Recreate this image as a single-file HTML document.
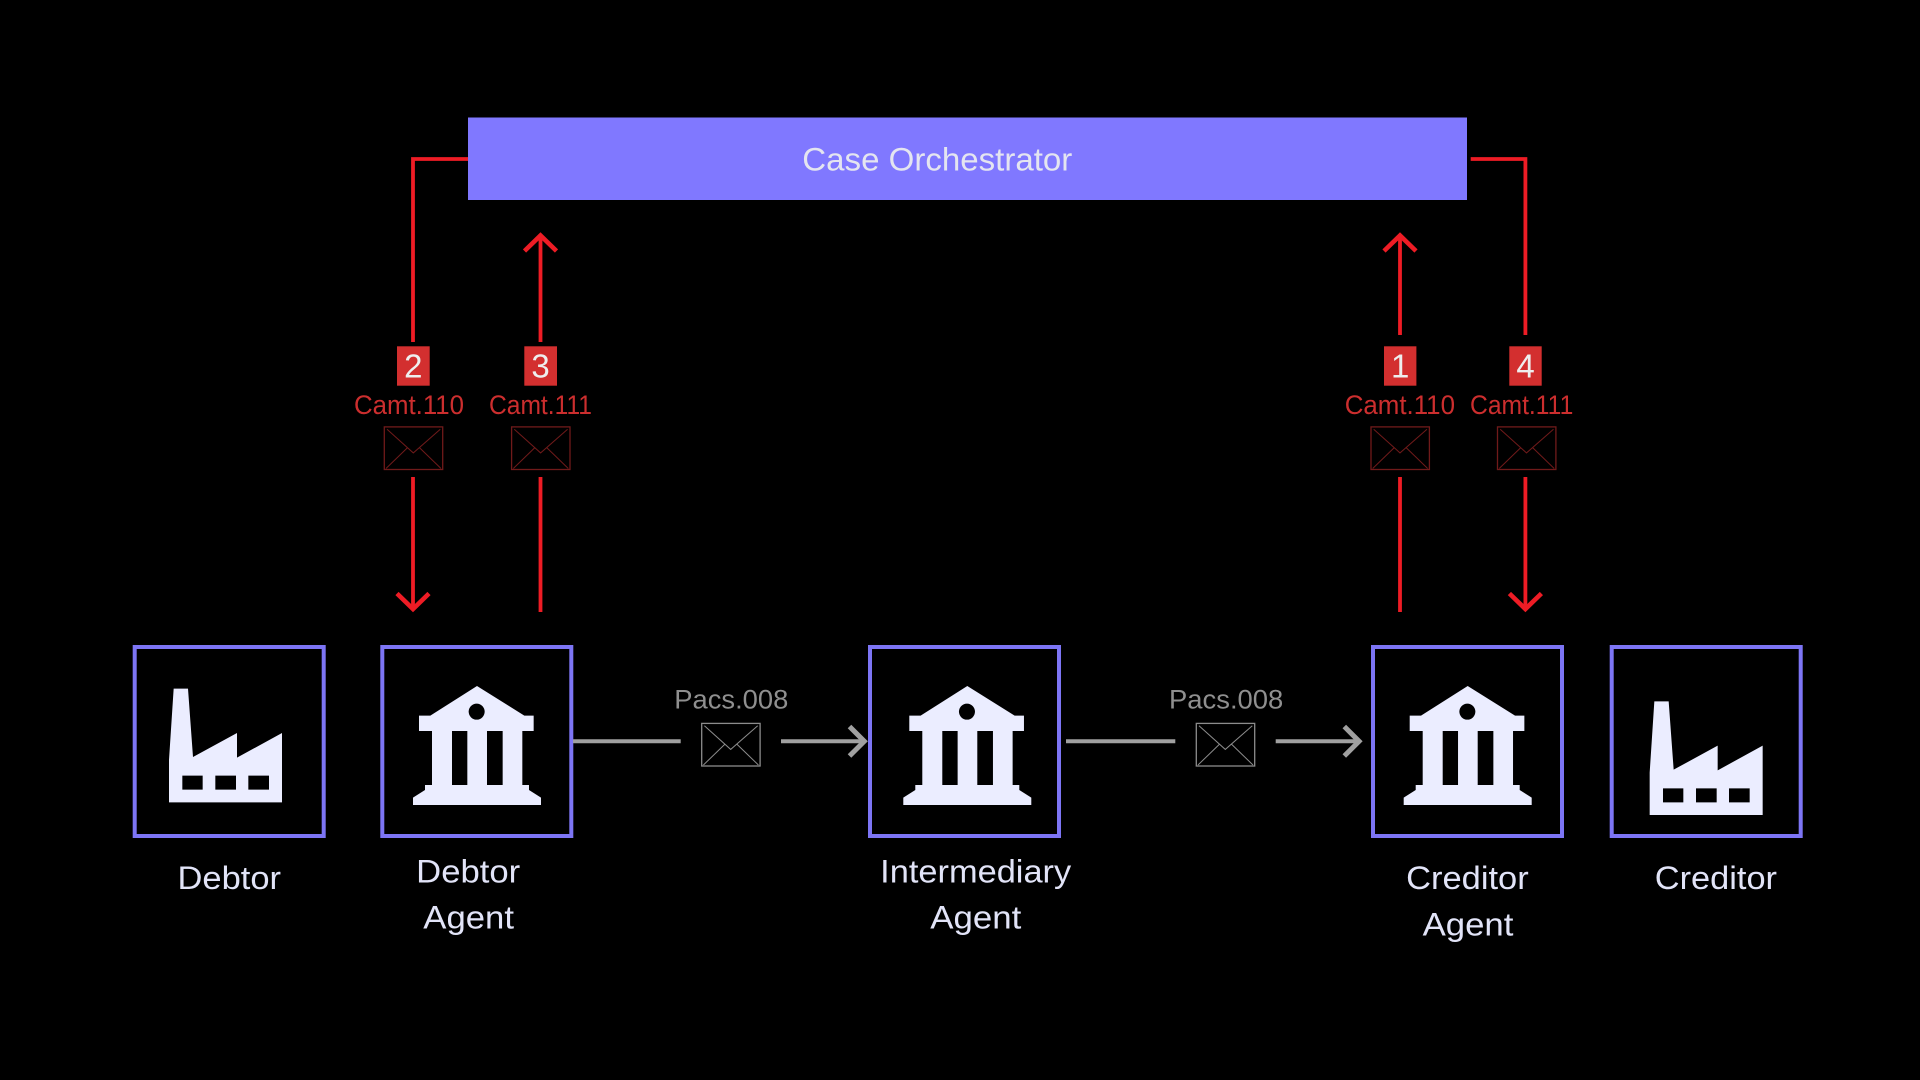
<!DOCTYPE html>
<html>
<head>
<meta charset="utf-8">
<style>
html,body{margin:0;padding:0;background:#000;width:1920px;height:1080px;overflow:hidden}
svg{display:block}
text{font-family:"Liberation Sans",sans-serif}
.lab{font-size:32px;fill:#e2e4f8}
.camt{font-size:26.5px;fill:#cc2e2e}
.pacs{font-size:26.5px;fill:#8f8f8f}
.num{font-size:33px;fill:#eeeeee;text-anchor:middle}
.red{fill:none;stroke:#ee1c25;stroke-width:3.8;stroke-miterlimit:10}
.redw{fill:none;stroke:#ee1c25;stroke-width:4.6;stroke-miterlimit:10}
.gray{fill:none;stroke:#a0a0a0;stroke-width:4;stroke-miterlimit:10}
.grayw{fill:none;stroke:#a0a0a0;stroke-width:5;stroke-miterlimit:10}
.box{fill:#000;stroke:#7d75f5;stroke-width:4}
</style>
</head>
<body>
<svg width="1920" height="1080" viewBox="0 0 1920 1080" xmlns="http://www.w3.org/2000/svg">
<defs>
  <g id="bank">
    <path fill="#ebedff" fill-rule="evenodd" d="M1071 168L1213 257H1241V303H1207V465H1227V480L1263 503V525H879V503L915 480V465H936V303H897V257H931ZM996 303V465H1042V303ZM1101 303V465H1148V303Z"/>
    <circle cx="1070" cy="245" r="24" fill="#000"/>
  </g>
  <g id="factory">
    <path fill="#ebedff" fill-rule="evenodd" d="M161 176H204L219 381L351 309V383L486 309V517H147V390ZM187 437V479H248V437ZM286 437V479H348V437ZM385 437V479H447V437Z"/>
  </g>
  <g id="env" fill="none">
    <rect x="0" y="0" width="58.4" height="42.6" stroke-width="1.3"/>
    <path stroke-width="1" d="M2.7 2.3L29 26L56 2.3M1.7 41.6L23.4 20.6M35 20.6L56.7 41.6"/>
  </g>
</defs>

<rect width="1920" height="1080" fill="#000"/>

<!-- Orchestrator -->
<rect x="468" y="117.5" width="999" height="82.5" fill="#8078ff"/>
<text x="802.3" y="170.7" fill="#e4e5f0" textLength="270" lengthAdjust="spacingAndGlyphs" style="font-size:32px">Case Orchestrator</text>

<!-- Red connectors -->
<path class="red" d="M468 159H413V342"/>
<path class="red" d="M540.5 342V236"/>
<path class="redw" d="M524.5 251L540.5 235.5L556.5 251"/>
<path class="red" d="M413 477V608"/>
<path class="redw" d="M397 593.5L413 609L429 593.5"/>
<path class="red" d="M540.5 477V612"/>

<path class="red" d="M1400 335V236"/>
<path class="redw" d="M1384 251L1400 235.5L1416 251"/>
<path class="red" d="M1470.7 159H1525.4V335"/>
<path class="red" d="M1400 477V612"/>
<path class="red" d="M1525.4 477V608"/>
<path class="redw" d="M1509.4 593.5L1525.4 609L1541.4 593.5"/>

<!-- Badges -->
<rect x="397" y="346.3" width="32.7" height="39.4" fill="#d32f2f"/>
<rect x="524.3" y="346.3" width="32.7" height="39.4" fill="#d32f2f"/>
<rect x="1384" y="346.3" width="32.4" height="39.4" fill="#d32f2f"/>
<rect x="1509.3" y="346.3" width="32.4" height="39.4" fill="#d32f2f"/>
<text class="num" x="413.3" y="377.3">2</text>
<text class="num" x="540.6" y="377.3">3</text>
<text class="num" x="1400.2" y="377.3">1</text>
<text class="num" x="1525.5" y="377.3">4</text>

<!-- Camt labels -->
<text class="camt" x="354" y="414" textLength="110" lengthAdjust="spacingAndGlyphs">Camt.110</text>
<text class="camt" x="489" y="414" textLength="103" lengthAdjust="spacingAndGlyphs">Camt.111</text>
<text class="camt" x="1344.7" y="414" textLength="110.3" lengthAdjust="spacingAndGlyphs">Camt.110</text>
<text class="camt" x="1470" y="414" textLength="103.3" lengthAdjust="spacingAndGlyphs">Camt.111</text>

<!-- Red envelopes -->
<use href="#env" x="384.3" y="426.9" stroke="#701a1a"/>
<use href="#env" x="511.6" y="426.9" stroke="#701a1a"/>
<use href="#env" x="1371" y="426.9" stroke="#701a1a"/>
<use href="#env" x="1497.5" y="426.9" stroke="#701a1a"/>

<!-- Boxes -->
<rect class="box" x="134.7" y="647" width="189" height="189"/>
<rect class="box" x="382.3" y="647" width="189" height="189"/>
<rect class="box" x="870" y="647" width="189" height="189"/>
<rect class="box" x="1373" y="647" width="189" height="189"/>
<rect class="box" x="1611.7" y="647" width="189" height="189"/>

<!-- Icons -->
<use href="#factory" transform="translate(120 630) scale(.33333)"/>
<use href="#bank" transform="translate(120 630) scale(.33333)"/>
<use href="#bank" transform="translate(610.3 630) scale(.33333)"/>
<use href="#bank" transform="translate(1110.7 630) scale(.33333)"/>
<use href="#factory" transform="translate(1600.67 642.67) scale(.33333)"/>

<!-- Gray connectors -->
<path class="gray" d="M573 741.3H680.7"/>
<path class="gray" d="M781 741.3H864"/>
<path class="grayw" d="M849.5 726.5L864.3 741.3L849.5 756"/>
<path class="gray" d="M1066 741.3H1175.3"/>
<path class="gray" d="M1275.7 741.3H1359"/>
<path class="grayw" d="M1344.3 726.5L1359.1 741.3L1344.3 756"/>

<text class="pacs" x="674.3" y="708.6" textLength="114" lengthAdjust="spacingAndGlyphs">Pacs.008</text>
<text class="pacs" x="1169" y="708.6" textLength="114.3" lengthAdjust="spacingAndGlyphs">Pacs.008</text>
<use href="#env" x="701.7" y="723.4" stroke="#8c8c8c"/>
<use href="#env" x="1196.3" y="723.4" stroke="#8c8c8c"/>

<!-- Labels -->
<text class="lab" x="177.5" y="889" textLength="103.5" lengthAdjust="spacingAndGlyphs">Debtor</text>
<text class="lab" x="416.2" y="882.3" textLength="104" lengthAdjust="spacingAndGlyphs">Debtor</text>
<text class="lab" x="423.3" y="928.3" textLength="90.7" lengthAdjust="spacingAndGlyphs">Agent</text>
<text class="lab" x="880.2" y="882.3" textLength="191" lengthAdjust="spacingAndGlyphs">Intermediary</text>
<text class="lab" x="930.3" y="928.3" textLength="91" lengthAdjust="spacingAndGlyphs">Agent</text>
<text class="lab" x="1406.2" y="889" textLength="122.5" lengthAdjust="spacingAndGlyphs">Creditor</text>
<text class="lab" x="1422.6" y="935.7" textLength="90.8" lengthAdjust="spacingAndGlyphs">Agent</text>
<text class="lab" x="1654.8" y="889" textLength="122.2" lengthAdjust="spacingAndGlyphs">Creditor</text>
</svg>
</body>
</html>
